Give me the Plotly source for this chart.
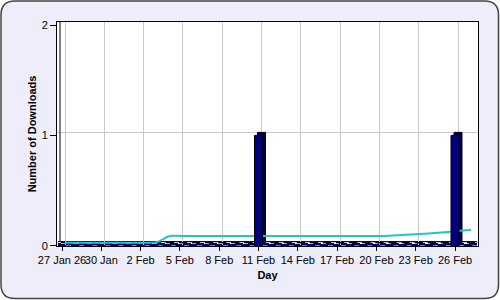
import pandas as pd
import plotly.graph_objects as go

# ---- data ----
dates = pd.date_range("2026-01-27", "2026-02-27", freq="D")
downloads = [0] * len(dates)
downloads[dates.get_loc(pd.Timestamp("2026-02-11"))] = 1
downloads[dates.get_loc(pd.Timestamp("2026-02-26"))] = 1
trend = [0, 0, 0, 0, 0, 0, 0, 0.005,
         0.06, 0.06, 0.06, 0.06, 0.06, 0.06, 0.06, 0.06,
         0.06, 0.06, 0.06, 0.06, 0.06, 0.06, 0.06, 0.06,
         0.06, 0.065, 0.071, 0.078, 0.086, 0.095, 0.105, 0.117]
tick_dates = pd.date_range("2026-01-27", "2026-02-26", freq="3D")
tick_labels = ["27 Jan 26", "30 Jan", "2 Feb", "5 Feb", "8 Feb", "11 Feb",
               "14 Feb", "17 Feb", "20 Feb", "23 Feb", "26 Feb"]
y_ticks = [0, 1, 2]

# ---- geometry ----
W, H = 500, 300
L, R, T, B = 57, 22, 22, 54
PW, PH = W - L - R, H - T - B
PX_DAY = 13.1
PX_UNIT = 110.3
DEPTH = 3  # px 3D offset
DAY = pd.Timedelta(days=1)
day_ms = 86400000

x0 = pd.Timestamp("2026-01-27") - (62 - L) / PX_DAY * DAY
x1 = pd.Timestamp("2026-01-27") + (L + PW - 62) / PX_DAY * DAY
y0 = -(246 - 245.7) / PX_UNIT
y1 = (245.7 - T) / PX_UNIT
dx = DEPTH / PX_DAY * DAY
dy = DEPTH / PX_UNIT


def px(xp):
    return (xp - L) / PW


def py(yp):
    return (H - B - yp) / PH


def rr_path(xa, ya, xb, yb, r):
    pts = []
    pts.append(f"M {px(xa + r)},{py(ya)}")
    pts.append(f"L {px(xb - r)},{py(ya)}")
    pts.append(f"Q {px(xb)},{py(ya)} {px(xb)},{py(ya + r)}")
    pts.append(f"L {px(xb)},{py(yb - r)}")
    pts.append(f"Q {px(xb)},{py(yb)} {px(xb - r)},{py(yb)}")
    pts.append(f"L {px(xa + r)},{py(yb)}")
    pts.append(f"Q {px(xa)},{py(yb)} {px(xa)},{py(yb - r)}")
    pts.append(f"L {px(xa)},{py(ya + r)}")
    pts.append(f"Q {px(xa)},{py(ya)} {px(xa + r)},{py(ya)}")
    return " ".join(pts) + " Z"


FONT = "Liberation Sans, Arial, sans-serif"
fig = go.Figure()

bar_w = 8 / PX_DAY * day_ms
bar_off = -4 / PX_DAY * day_ms

# back plane (x, y): trend line + back faces of bars
fig.add_trace(go.Scatter(x=dates, y=trend, mode="lines", line=dict(color="#22C4C4", width=2, shape="spline", smoothing=1.0),
                         xaxis="x", yaxis="y", hoverinfo="skip", showlegend=False))
fig.add_trace(go.Bar(x=dates, y=downloads, width=bar_w, offset=bar_off,
                     marker=dict(color="#00005A", line=dict(color="black", width=1)),
                     xaxis="x", yaxis="y", showlegend=False))
# front plane (x2, y2): front faces
fig.add_trace(go.Bar(x=dates, y=downloads, width=bar_w, offset=bar_off,
                     marker=dict(color="#000080", line=dict(color="black", width=1)),
                     xaxis="x2", yaxis="y2", showlegend=False))

shapes = [
    dict(type="path", xref="paper", yref="paper", layer="below",
         path=rr_path(1, 1, 498.5, 298.5, 14), fillcolor="#EEEEFB",
         line=dict(color="#444444", width=1.5)),
    dict(type="rect", xref="paper", yref="paper", layer="below",
         x0=0, x1=1, y0=0, y1=1, fillcolor="white", line=dict(width=0)),
    # floor of the 3D plot
    dict(type="rect", xref="paper", yref="paper", layer="between",
         x0=px(L + 1), x1=px(L + PW - 1), y0=py(245.5), y1=py(241), fillcolor="#000080",
         line=dict(width=0)),
    dict(type="line", xref="paper", yref="paper", layer="between",
         x0=px(L + 4), x1=px(L + PW - 2), y0=py(243.2), y1=py(243.2),
         line=dict(color="white", width=1.5, dash="5px,8px")),
    # back wall left edge
    dict(type="line", xref="paper", yref="paper", layer="above",
         x0=px(L + DEPTH), x1=px(L + DEPTH), y0=py(T), y1=py(242),
         line=dict(color="black", width=1)),
]

fig.update_layout(
    width=W, height=H,
    margin=dict(l=L, r=R, t=T, b=B, autoexpand=False),
    paper_bgcolor="white", plot_bgcolor="rgba(0,0,0,0)",
    font=dict(family=FONT, size=11, color="black"),
    barmode="overlay",
    shapes=shapes,
    xaxis=dict(type="date", range=[x0 - dx, x1 - dx], tickvals=tick_dates, showticklabels=False,
               ticks="", showgrid=True, gridcolor="#C8C8C8", gridwidth=1, zeroline=False,
               showline=True, linecolor="black", linewidth=1, mirror=True, automargin=False),
    yaxis=dict(range=[y0 - dy, y1 - dy], tickvals=y_ticks, showticklabels=False, ticks="",
               showgrid=True, gridcolor="#C8C8C8", gridwidth=1, zeroline=False,
               showline=True, linecolor="black", linewidth=1, mirror=True, automargin=False),
    xaxis2=dict(type="date", range=[x0, x1], overlaying="x", anchor="y2", side="bottom",
                tickvals=tick_dates, ticktext=tick_labels, ticks="outside", ticklen=4,
                tickcolor="black", showgrid=False, zeroline=False, showline=False,
                tickfont=dict(size=11), tickangle=0, automargin=False,
                title=dict(text="<b>Day</b>", font=dict(size=11), standoff=6)),
    yaxis2=dict(range=[y0, y1], overlaying="y", anchor="x2", side="left",
                tickvals=y_ticks, ticks="outside", ticklen=6, tickcolor="black",
                showgrid=False, zeroline=False, showline=False, tickfont=dict(size=11),
                automargin=False,
                title=dict(text="<b>Number of Downloads</b>", font=dict(size=11), standoff=2)),
)

fig.write_html("out.html")
